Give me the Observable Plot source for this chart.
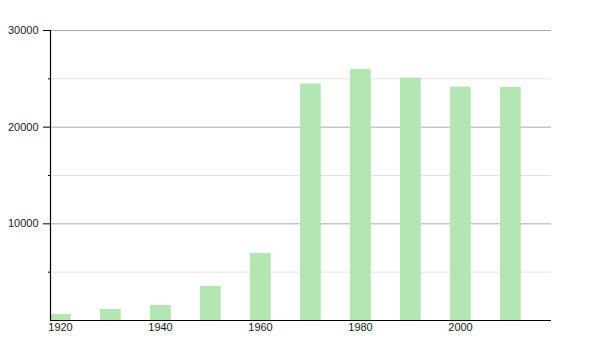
<!DOCTYPE html>
<html>
<head>
<meta charset="utf-8">
<script src="https://cdn.jsdelivr.net/npm/d3@7"></script>
<script src="https://cdn.jsdelivr.net/npm/@observablehq/plot@0.6"></script>
<style>
  html, body { margin: 0; padding: 0; background: #fff; }
  #chart svg { display: block; }
</style>
</head>
<body>
<div id="chart"></div>
<script>
const years = [1920, 1930, 1940, 1950, 1960, 1970, 1980, 1990, 2000, 2010];
const population = [620, 1140, 1550, 3520, 6940, 24460, 25980, 25080, 24150, 24110];
const xTickLabels = [1920, 1940, 1960, 1980, 2000];
const yMajorTicks = [10000, 20000, 30000];
const yMinorTicks = [5000, 15000, 25000];

const data = years.map((year, i) => ({year, value: population[i]}));

const chart = Plot.plot({
  width: 600,
  height: 350,
  marginLeft: 50,
  marginRight: 49,
  marginTop: 30,
  marginBottom: 30,
  style: {fontFamily: "'Liberation Sans', Arial, sans-serif", fontSize: "11px", color: "#222", background: "#fff"},
  x: {domain: [1918, 2018.2]},
  y: {domain: [0, 30000]},
  marks: [
    Plot.ruleY(yMinorTicks, {stroke: "#e2e2e2", strokeWidth: 1}),
    Plot.ruleY(yMajorTicks, {stroke: "#aaa", strokeWidth: 1}),
    Plot.rectY(data, {x1: d => d.year - 2, x2: d => d.year + 2.15, y1: 0, y2: "value", fill: "#b3e6b3"}),
    Plot.ruleX([1918], {y1: 0, y2: 30000, stroke: "#000", strokeWidth: 1.2}),
    Plot.ruleY([0], {stroke: "#000", strokeWidth: 1.2}),
    Plot.axisY({ticks: yMajorTicks, tickSize: 7, tickPadding: 5, tickFormat: d3.format("d"), label: null, stroke: "#000"}),
    Plot.axisY({ticks: yMinorTicks, tickSize: 2, tickFormat: () => "", label: null, stroke: "#000"}),
    Plot.axisX({ticks: xTickLabels, tickSize: 0, tickPadding: 3, tickFormat: d3.format("d"), label: null})
  ]
});
document.getElementById("chart").appendChild(chart);
</script>
</body>
</html>
